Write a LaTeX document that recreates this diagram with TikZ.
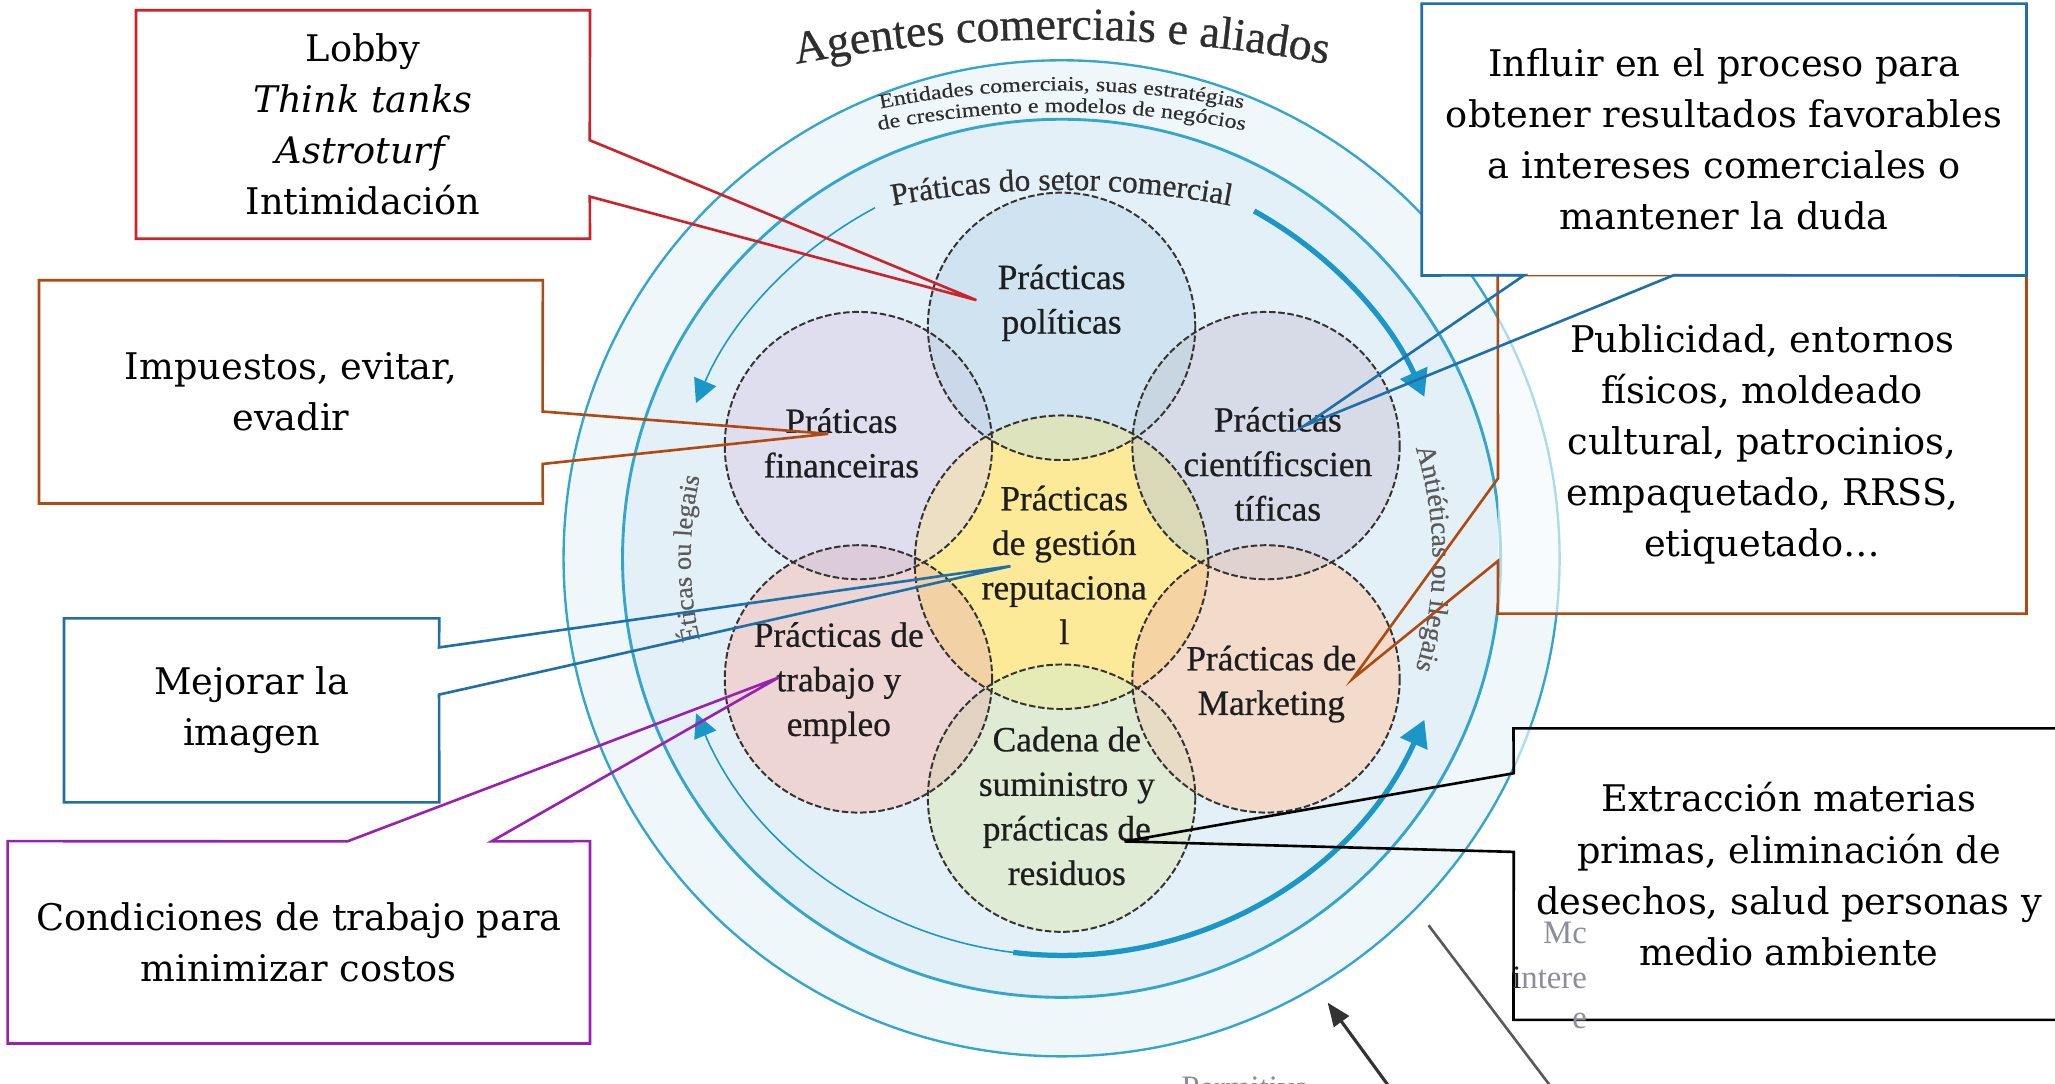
\documentclass[tikz,border=0pt]{standalone}
\usepackage{fontspec}
\setmainfont{DejaVu Serif}
\newfontfamily\timesf{Liberation Serif}
\newfontfamily\timesb[FakeBold=0.6]{Liberation Serif}
\newfontfamily\timesw[FakeStretch=1.18,FakeBold=0.3]{Liberation Serif}
\usetikzlibrary{arrows.meta,decorations.text}
\definecolor{ringbg}{HTML}{EFF7FB}
\definecolor{diskbg}{HTML}{E3F0F8}
\definecolor{ringline}{HTML}{34A6CC}
\definecolor{arrowc}{HTML}{1B97C7}
\definecolor{cPol}{HTML}{CFE4F0}
\definecolor{cFin}{HTML}{DFDEEF}
\definecolor{cSci}{HTML}{D7DBE7}
\definecolor{cTra}{HTML}{ECD5D3}
\definecolor{cMar}{HTML}{F3DBCC}
\definecolor{cCad}{HTML}{E0EBD5}
\definecolor{cCen}{HTML}{FCEA98}
\definecolor{lPol}{HTML}{DDE3BD}
\definecolor{lFin}{HTML}{EDDFC3}
\definecolor{lSci}{HTML}{DAD9B7}
\definecolor{lTra}{HTML}{F2D2A5}
\definecolor{lMar}{HTML}{F6D3A2}
\definecolor{lCad}{HTML}{E6EAB4}
\definecolor{oPF}{HTML}{CAD8E9}
\definecolor{oPS}{HTML}{C8D6E2}
\definecolor{oFT}{HTML}{DCCBD8}
\definecolor{oSM}{HTML}{E0D2CF}
\definecolor{oTK}{HTML}{E2D2C4}
\definecolor{oMK}{HTML}{E8DBC3}
\definecolor{circline}{HTML}{333333}
\definecolor{labtext}{HTML}{1E1E1E}
\definecolor{ringtext}{HTML}{2E2E2E}
\definecolor{sidetext}{HTML}{5A5A5A}
\definecolor{cred}{HTML}{CC2229}
\definecolor{cbrown}{HTML}{B04A12}
\definecolor{cblue}{HTML}{1F6FA8}
\definecolor{cpurple}{HTML}{9A20B0}
\definecolor{fadetext}{HTML}{8C8C9C}
\newcommand\calfont{\fontsize{28}{39}\selectfont}
\newcommand\labfont{\timesb\fontsize{27}{34}\selectfont}
\begin{document}
\begin{tikzpicture}[x=1pt,y=-1pt,
  cbox/.style={fill=white, fill opacity=0.6, text opacity=1, align=center, font=\calfont, inner sep=0pt, text=black},
  clab/.style={align=center, font=\labfont, text=labtext, inner sep=0pt},
  circ/.style={draw=circline, line width=1.5pt, dash pattern=on 5pt off 2pt},
  callout/.style={line width=2pt, line join=miter},
  thinarc/.style={draw=arrowc, line width=1.2pt, -{Triangle[length=18pt,width=18pt]}},
  thickarc/.style={draw=arrowc, line width=4pt, -{Triangle[length=20pt,width=22pt]}},
  fade/.style={font=\timesf\fontsize{25}{25}\selectfont, text=fadetext, inner sep=0pt}
]
\useasboundingbox (0,0) rectangle (1568,827);

% ---- rings ----
\coordinate (O) at (810,426);
\fill[ringbg] (O) circle[radius=380];
\fill[diskbg] (O) circle[radius=335];
\draw[ringline, line width=1.8pt] (O) circle[radius=380];
\draw[ringline, line width=2.2pt] (O) circle[radius=335];

% arrow arcs
\draw[thinarc] (667.7,158.5) arc[start angle=242, end angle=203, radius=303];
\draw[thickarc] (956.9,161.0) arc[start angle=299, end angle=336, radius=303];
\draw[thinarc] (773.1,726.7) arc[start angle=97, end angle=157, radius=303];
\draw[thickarc] (773.1,726.7) arc[start angle=97, end angle=24, radius=303];

% curved texts
\path[decorate, decoration={text along path, text align=center, text color=ringtext,
  text={|\timesb\fontsize{35}{35}\selectfont|Agentes comerciais e aliados}}]
  (525.3,67.5) arc[start angle=255, end angle=285, radius=1100];
\path[decorate, decoration={text along path, text align=center, text color=ringtext,
  text={|\timesw\fontsize{15.5}{15.5}\selectfont|Entidades comerciais, suas estratégias}}]
  (640.7,89.8) arc[start angle=256, end angle=284, radius=700];
\path[decorate, decoration={text along path, text align=center, text color=ringtext,
  text={|\timesw\fontsize{15.5}{15.5}\selectfont|de crescimento e modelos de negócios}}]
  (640.7,106.3) arc[start angle=256, end angle=284, radius=700];
\path[decorate, decoration={text along path, text align=center, text color=ringtext,
  text={|\timesb\fontsize{24}{24}\selectfont|Práticas do setor comercial}}]
  (628.8,168.8) arc[start angle=255, end angle=285, radius=700];
\path[decorate, decoration={text along path, text align=center, text color=sidetext,
  text={|\timesb\fontsize{20}{20}\selectfont|Éticas ou legais}}]
  (544.1,522.8) arc[start angle=160, end angle=200, radius=283];
\path[decorate, decoration={text along path, text align=center, text color=sidetext,
  text={|\timesb\fontsize{21}{21}\selectfont|Antiéticas ou ilegais}}]
  (1066.5,306.6) arc[start angle=-25, end angle=25, radius=283];

% ---- practice circles ----
\coordinate (cC) at (810,429);
\coordinate (cP) at (810,249);
\coordinate (cF) at (655,340);
\coordinate (cS) at (966,340);
\coordinate (cT) at (655,518);
\coordinate (cM) at (966,518);
\coordinate (cK) at (810,609);
\fill[cPol] (cP) circle[radius=102];
\fill[cFin] (cF) circle[radius=102];
\fill[cSci] (cS) circle[radius=102];
\fill[cTra] (cT) circle[radius=102];
\fill[cMar] (cM) circle[radius=102];
\fill[cCad] (cK) circle[radius=102];
\begin{scope}\clip (cP) circle[radius=102]; \fill[oPF] (cF) circle[radius=102]; \fill[oPS] (cS) circle[radius=102]; \end{scope}
\begin{scope}\clip (cF) circle[radius=102]; \fill[oFT] (cT) circle[radius=102]; \end{scope}
\begin{scope}\clip (cS) circle[radius=102]; \fill[oSM] (cM) circle[radius=102]; \end{scope}
\begin{scope}\clip (cK) circle[radius=102]; \fill[oTK] (cT) circle[radius=102]; \fill[oMK] (cM) circle[radius=102]; \end{scope}
\fill[cCen] (cC) circle[radius=112];
\begin{scope}\clip (cC) circle[radius=112];
  \fill[lPol] (cP) circle[radius=102];
  \fill[lFin] (cF) circle[radius=102];
  \fill[lSci] (cS) circle[radius=102];
  \fill[lTra] (cT) circle[radius=102];
  \fill[lMar] (cM) circle[radius=102];
  \fill[lCad] (cK) circle[radius=102];
\end{scope}
\foreach \c in {cP,cF,cS,cT,cM,cK} \draw[circ] (\c) circle[radius=102];
\draw[circ] (cC) circle[radius=112];

\node[clab] (tPol) at (810,231) {Prácticas\\políticas};
\node[clab] (tFin) at (642,338) {Práticas\\financeiras};
\node[clab] (tSci) at (975,354) {Prácticas\\científicscien\\tíficas};
\node[clab] (tCen) at (812,431) {Prácticas\\de gestión\\reputaciona\\l};
\node[clab] (tTra) at (640,521) {Prácticas de\\trabajo y\\empleo};
\node[clab] (tMar) at (970,522) {Prácticas de\\Marketing};
\node[clab] (tCad) at (814,615) {Cadena de\\suministro y\\prácticas de\\residuos};

% ---- bottom right fragments ----
\coordinate (arrS) at (1062,832);
\coordinate (arrE) at (1013,765);
\draw[draw=black!80, line width=2.4pt, -{Triangle[length=18pt,width=14pt]}] (arrS) -- (arrE);
\coordinate (glS) at (1090,706);
\coordinate (glE) at (1184,830);
\draw[black!65, line width=2pt] (glS) -- (glE);
\node[fade, anchor=base] (perm) at (950,838) {Permitiva};

% ---- callouts ----
\coordinate (tLobby) at (745,229);
\coordinate (tImp) at (632,331);
\coordinate (tMej) at (771,432);
\coordinate (tCond) at (594,517);
\coordinate (tInfl) at (995,325);
\coordinate (tPubl) at (1032,518);
\coordinate (tExtr) at (858,642);

\node[cbox, minimum width=346pt, minimum height=174pt] (lobby) at (277,95)
  {Lobby\\\textit{Think tanks}\\\textit{Astroturf}\\Intimidación};
\draw[callout, cred] (lobby.north west) -- (lobby.north east) -- (450,107) -- (tLobby) -- (450,150)
  -- (lobby.south east) -- (lobby.south west) -- cycle;

\node[cbox, minimum width=384pt, minimum height=170pt] (imp) at (222,299)
  {Impuestos, evitar,\\evadir};
\draw[callout, cbrown] (imp.north west) -- (imp.north east) -- (414,314) -- (tImp) -- (414,354)
  -- (imp.south east) -- (imp.south west) -- cycle;

\node[cbox, minimum width=286pt, minimum height=140pt] (mej) at (192,542)
  {Mejorar la\\imagen};
\draw[callout, cblue] (mej.north west) -- (mej.north east) -- (335,494) -- (tMej) -- (335,530)
  -- (mej.south east) -- (mej.south west) -- cycle;

\node[cbox, minimum width=444pt, minimum height=154pt] (cond) at (228,719)
  {Condiciones de trabajo para\\minimizar costos};
\draw[callout, cpurple] (cond.north west) -- (265,642) -- (tCond) -- (375,642) -- (cond.north east)
  -- (cond.south east) -- (cond.south west) -- cycle;

\node[cbox, minimum width=403pt, minimum height=258pt] (publ) at (1344.5,339)
  {Publicidad, entornos\\físicos, moldeado\\cultural, patrocinios,\\empaquetado, RRSS,\\etiquetado…};
\draw[callout, cbrown] (publ.north west) -- (publ.north east) -- (publ.south east) -- (publ.south west)
  -- (1143,428) -- (tPubl) -- (1143,365) -- cycle;

\node[cbox, fill opacity=1, minimum width=461pt, minimum height=207pt] (infl) at (1315.5,106.5)
  {Influir en el proceso para\\obtener resultados favorables\\a intereses comerciales o\\mantener la duda};
\draw[callout, cblue] (infl.north west) -- (infl.north east) -- (infl.south east) -- (1277,210) -- (tInfl)
  -- (1163,210) -- (infl.south west) -- cycle;

\node[cbox, minimum width=420pt, minimum height=222pt] (extr) at (1365,667)
  {Extracción materias\\primas, eliminación de\\desechos, salud personas y\\medio ambiente};
\draw[callout, black] (extr.north west) -- (extr.north east) -- (extr.south east) -- (extr.south west)
  -- (1155,650) -- (tExtr) -- (1155,590) -- cycle;

\node[fade, anchor=base east] (mc) at (1211,720) {Mc};
\node[fade, anchor=base east] (intere) at (1211,754) {{\color{black!85}i}ntere};
\node[fade, anchor=base east] (ee) at (1211,785) {e};
\end{tikzpicture}
\end{document}
